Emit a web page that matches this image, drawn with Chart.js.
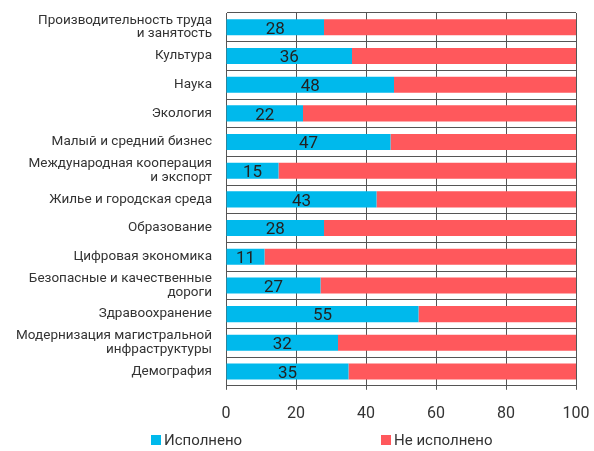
<!DOCTYPE html>
<html>
<head>
<meta charset="utf-8">
<script src="https://cdn.jsdelivr.net/npm/chart.js@4"></script>
<style>
  html, body { margin: 0; padding: 0; background: #fff; }
  #wrap { width: 594px; height: 451px; }
</style>
</head>
<body>
<div id="wrap"><canvas id="c" width="594" height="451"></canvas></div>
<script>
// Национальные проекты: доля исполненных и неисполненных показателей, %
const categories = [
  ['Производительность труда', 'и занятость'],
  'Культура',
  'Наука',
  'Экология',
  'Малый и средний бизнес',
  ['Международная кооперация', 'и экспорт'],
  'Жилье и городская среда',
  'Образование',
  'Цифровая экономика',
  ['Безопасные и качественные', 'дороги'],
  'Здравоохранение',
  ['Модернизация магистральной', 'инфраструктуры'],
  'Демография'
];
const done =    [28, 36, 48, 22, 47, 15, 43, 28, 11, 27, 55, 32, 35];
const notDone = [72, 64, 52, 78, 53, 85, 57, 72, 89, 73, 45, 68, 65];
const xTicks = [0, 20, 40, 60, 80, 100];
const seriesNames = ['Исполнено', 'Не исполнено'];

const BLUE = '#00b9ec';
const RED = '#ff585c';
const GRID = '#555555';
const TEXT = '#333333';
const FONT = 'Roboto, "Open Sans", sans-serif';

// Value labels centred inside the blue segment
const valueLabels = {
  id: 'valueLabels',
  afterDatasetsDraw(chart) {
    const ctx = chart.ctx;
    const meta = chart.getDatasetMeta(0);
    ctx.save();
    ctx.font = '17px ' + FONT;
    ctx.fillStyle = '#222';
    ctx.textAlign = 'center';
    ctx.textBaseline = 'middle';
    meta.data.forEach((bar, i) => {
      const p = bar.getProps(['x', 'y', 'base'], true);
      ctx.fillText(String(done[i]), (p.x + p.base) / 2, p.y + 2);
    });
    ctx.restore();
  }
};

// Legend row under the axis
const bottomLegend = {
  id: 'bottomLegend',
  afterDraw(chart) {
    const ctx = chart.ctx;
    const items = [
      { x: 151, color: BLUE, text: seriesNames[0] },
      { x: 381, color: RED, text: seriesNames[1] }
    ];
    const y = 440;
    ctx.save();
    ctx.font = '15px ' + FONT;
    ctx.textBaseline = 'middle';
    ctx.textAlign = 'left';
    items.forEach(it => {
      ctx.fillStyle = it.color;
      ctx.fillRect(it.x, y - 5, 10, 10);
      ctx.fillStyle = TEXT;
      ctx.fillText(it.text, it.x + 13, y + 1);
    });
    ctx.restore();
  }
};

new Chart(document.getElementById('c'), {
  type: 'bar',
  data: {
    labels: categories,
    datasets: [
      { label: seriesNames[0], data: done, backgroundColor: BLUE, borderWidth: 0,
        barPercentage: 0.56, categoryPercentage: 1 },
      { label: seriesNames[1], data: notDone, backgroundColor: RED, borderWidth: 0,
        barPercentage: 0.56, categoryPercentage: 1 }
    ]
  },
  options: {
    indexAxis: 'y',
    responsive: false,
    animation: false,
    devicePixelRatio: 1,
    layout: { padding: { top: 13, right: 18, bottom: 12, left: 0 } },
    plugins: {
      legend: { display: false },
      tooltip: { enabled: false }
    },
    scales: {
      x: {
        stacked: true,
        min: 0,
        max: 100,
        afterBuildTicks(scale) { scale.ticks = xTicks.map(v => ({ value: v })); },
        afterFit(scale) { scale.paddingLeft = 0; scale.paddingRight = 0; },
        grid: { color: GRID, lineWidth: 1, tickLength: 4, tickColor: GRID },
        border: { color: GRID },
        ticks: { color: TEXT, font: { family: FONT, size: 16 }, padding: 15, maxRotation: 0 }
      },
      y: {
        stacked: true,
        afterFit(scale) { scale.width = 226; scale.paddingTop = 0; scale.paddingBottom = 0; },
        grid: { color: GRID, lineWidth: 1, offset: true, drawTicks: false },
        border: { color: GRID },
        ticks: { color: TEXT, font: { family: FONT, size: 13.5, lineHeight: 1.0 }, padding: 14, autoSkip: false }
      }
    }
  },
  plugins: [valueLabels, bottomLegend]
});
</script>
</body>
</html>
